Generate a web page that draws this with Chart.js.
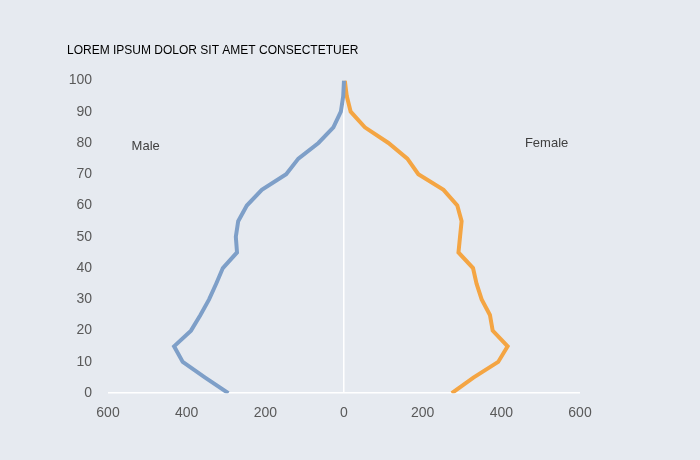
<!DOCTYPE html>
<html>
<head>
<meta charset="utf-8">
<script src="https://cdn.jsdelivr.net/npm/chart.js@4/dist/chart.umd.min.js"></script>
<style>
  html, body { margin: 0; padding: 0; background: #e6eaf0; }
  #wrap { width: 700px; height: 460px; }
</style>
</head>
<body>
<div id="wrap"><canvas id="pyramid"></canvas></div>
<script>
const ages = [0, 5, 10, 15, 20, 25, 30, 35, 40, 45, 50, 55, 60, 65, 70, 75, 80, 85, 90, 95, 100];
const maleCounts = [294, 353, 410, 432, 389, 365, 343, 325, 308, 272, 275, 269, 247, 209, 147, 116, 65, 27, 8, 2, 0];
const femaleCounts = [274, 329, 392, 416, 378, 371, 350, 337, 328, 291, 295, 299, 288, 253, 189, 161, 113, 53, 17, 7, 2];
const xTicks = [-600, -400, -200, 0, 200, 400, 600];
const titleText = 'LOREM IPSUM DOLOR SIT AMET CONSECTETUER';

const tickFont = { family: 'Liberation Sans', size: 14 };

// side labels placed in data space so they follow the scales
const sideLabels = {
    id: 'sideLabels',
    afterDatasetsDraw(chart) {
        const { ctx, scales: { x, y } } = chart;
        ctx.save();
        ctx.fillStyle = '#404040';
        ctx.font = '13px "Liberation Sans"';
        ctx.textBaseline = 'middle';
        ctx.textAlign = 'left';
        ctx.fillText('Male', x.getPixelForValue(-540), y.getPixelForValue(79));
        ctx.fillText('Female', x.getPixelForValue(460), y.getPixelForValue(80));
        ctx.restore();
    }
};

new Chart(document.getElementById('pyramid'), {
    type: 'scatter',
    data: {
        datasets: [
            {
                label: 'Male',
                data: ages.map((a, i) => ({ x: -maleCounts[i], y: a })),
                showLine: true,
                borderColor: '#7e9fc8',
                borderWidth: 4,
                pointRadius: 0,
                fill: false
            },
            {
                label: 'Female',
                data: ages.map((a, i) => ({ x: femaleCounts[i], y: a })),
                showLine: true,
                borderColor: '#f4a543',
                borderWidth: 4,
                pointRadius: 0,
                fill: false
            }
        ]
    },
    options: {
        responsive: true,
        maintainAspectRatio: false,
        animation: false,
        layout: { padding: { left: 67, top: 43, right: 120, bottom: 26 } },
        plugins: {
            legend: { display: false },
            tooltip: { enabled: false },
            title: {
                display: true,
                text: titleText,
                align: 'start',
                color: '#000000',
                font: { family: 'Liberation Sans', size: 12, weight: 'normal' },
                padding: { top: 0, bottom: 23 }
            }
        },
        scales: {
            x: {
                type: 'linear',
                min: -600,
                max: 600,
                afterBuildTicks: (axis) => { axis.ticks = xTicks.map(v => ({ value: v })); },
                ticks: {
                    color: '#595959',
                    font: tickFont,
                    padding: 12,
                    maxRotation: 0,
                    callback: (v) => Math.abs(v)
                },
                grid: {
                    drawTicks: false,
                    color: (c) => c.tick && c.tick.value === 0 ? '#ffffff' : 'rgba(0,0,0,0)',
                    lineWidth: 1.5
                },
                border: { display: false }
            },
            y: {
                type: 'linear',
                min: 0,
                max: 100,
                afterFit: (axis) => { axis.width = 41; },
                ticks: {
                    stepSize: 10,
                    color: '#595959',
                    font: tickFont,
                    padding: 16
                },
                grid: {
                    drawTicks: false,
                    color: (c) => c.tick && c.tick.value === 0 ? '#ffffff' : 'rgba(0,0,0,0)',
                    lineWidth: 1.5
                },
                border: { display: false }
            }
        }
    },
    plugins: [sideLabels]
});
</script>
</body>
</html>
